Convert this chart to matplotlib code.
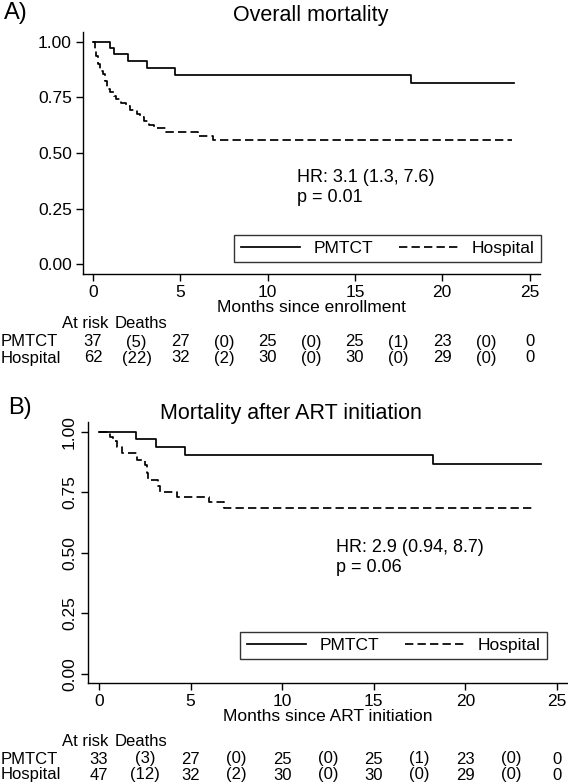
import matplotlib.pyplot as plt
import matplotlib.transforms as mtransforms

plt.rcParams['font.family'] = ['Liberation Sans', 'DejaVu Sans']

W, H = 568, 782

# Panel A: overall mortality (Kaplan-Meier steps)
a_pmtct_t = [0, 0.97, 1.2, 2.0, 3.1, 4.7, 18.2]
a_pmtct_s = [1.0, 0.973, 0.946, 0.915, 0.883, 0.851, 0.815]
a_pmtct_end = 24.1
a_hosp_t = [0, 0.1, 0.2, 0.3, 0.4, 0.55, 0.7, 0.8, 1.0, 1.2, 1.3, 1.6, 1.9,
            2.1, 2.5, 2.7, 2.9, 3.2, 3.5, 4.2, 6.0, 6.9]
a_hosp_s = [1.0, 0.968, 0.935, 0.903, 0.871, 0.855, 0.823, 0.79, 0.774, 0.758,
            0.742, 0.726, 0.71, 0.694, 0.677, 0.661, 0.645, 0.626, 0.611,
            0.596, 0.577, 0.559]
a_hosp_end = 24.0

# Panel B: mortality after ART initiation
b_pmtct_t = [0, 2.0, 3.1, 4.7, 18.25]
b_pmtct_s = [1.0, 0.97, 0.937, 0.902, 0.866]
b_pmtct_end = 24.1
b_hosp_t = [0, 0.6, 0.77, 1.0, 1.24, 2.06, 2.5, 2.6, 2.7, 3.2, 3.34, 4.25, 6.0, 6.8]
b_hosp_s = [1.0, 0.98, 0.96, 0.936, 0.912, 0.884, 0.864, 0.83, 0.80, 0.774,
            0.753, 0.73, 0.708, 0.685]
b_hosp_end = 23.8

# risk tables
risk_times = [0, 5, 10, 15, 20, 25]
death_times = [2.5, 7.5, 12.5, 17.5, 22.5]
a_pmtct_risk = [37, 27, 25, 25, 23, 0]
a_pmtct_deaths = [5, 0, 0, 1, 0]
a_hosp_risk = [62, 32, 30, 30, 29, 0]
a_hosp_deaths = [22, 2, 0, 0, 0]
b_pmtct_risk = [33, 27, 25, 25, 23, 0]
b_pmtct_deaths = [3, 0, 0, 1, 0]
b_hosp_risk = [47, 32, 30, 30, 29, 0]
b_hosp_deaths = [12, 2, 0, 0, 0]

groups = ['PMTCT', 'Hospital']


def fx(px):
    return px / W


def fy(px):
    return 1 - px / H


def panel(rect, xlim, ylim, pm, ho, legend_box, rotate_y):
    ax = fig.add_axes([fx(rect[0]), fy(rect[3]), fx(rect[2] - rect[0]),
                       (rect[3] - rect[1]) / H])
    t, s, end = pm
    ax.step(t + [end], s + [s[-1]], where='post', color='black', lw=1.25,
            label=groups[0])
    t, s, end = ho
    ax.step(t + [end], s + [s[-1]], where='post', color='black', lw=1.25,
            dashes=(4.8, 2.4), label=groups[1])
    ax.set_xlim(*xlim)
    ax.set_ylim(*ylim)
    ax.set_xticks([0, 5, 10, 15, 20, 25])
    ax.set_yticks([0, 0.25, 0.5, 0.75, 1.0])
    ax.set_yticklabels(['0.00', '0.25', '0.50', '0.75', '1.00'])
    for side in ['top', 'right']:
        ax.spines[side].set_visible(False)
    for side in ['left', 'bottom']:
        ax.spines[side].set_linewidth(1.0)
    ax.tick_params(direction='out', length=5, width=1.0, labelsize=12.5, pad=3)
    if rotate_y:
        ax.tick_params(axis='y', labelrotation=90)
        for lbl in ax.get_yticklabels():
            lbl.set_va('center')
    x0, y0, x1, y1 = legend_box
    leg = ax.legend(loc='lower right', bbox_to_anchor=(fx(x1), fy(y1)),
                    bbox_transform=fig.transFigure, borderaxespad=0, ncol=2,
                    fontsize=12.5, frameon=True, fancybox=False,
                    edgecolor='black', handlelength=3.4, columnspacing=1.5,
                    handletextpad=0.8, borderpad=0.35)
    leg.get_frame().set_linewidth(1.0)
    return ax


def risk_table(ax, rows_y, header_y):
    tr = mtransforms.blended_transform_factory(ax.transData, fig.transFigure)
    fig.text(fx(62), fy(header_y), 'At risk', fontsize=12, va='center')
    fig.text(fx(115), fy(header_y), 'Deaths', fontsize=12, va='center')
    for (name, risk, deaths), ypx in zip(rows_y[0], rows_y[1]):
        fig.text(fx(1), fy(ypx), name, fontsize=12, va='center')
        for x, n in zip(risk_times, risk):
            ax.text(x, fy(ypx), str(n), transform=tr, fontsize=12,
                    ha='center', va='center')
        for x, d in zip(death_times, deaths):
            ax.text(x, fy(ypx), '(%d)' % d, transform=tr, fontsize=12,
                    ha='center', va='center')


fig = plt.figure(figsize=(W / 100, H / 100), dpi=100)

# ---- A
axA = panel((83, 32, 540, 274), (-0.57, 25.6), (-0.045, 1.045),
            (a_pmtct_t, a_pmtct_s, a_pmtct_end),
            (a_hosp_t, a_hosp_s, a_hosp_end),
            (245, 238, 541, 262), False)
axA.set_xlabel('Months since enrollment', fontsize=12.5, labelpad=0)
fig.text(fx(311), fy(16), 'Overall mortality', fontsize=15.5, ha='center', va='center')
fig.text(fx(4), fy(13), 'A)', fontsize=17, ha='left', va='center')
fig.text(fx(297), fy(177), 'HR: 3.1 (1.3, 7.6)', fontsize=13, va='center')
fig.text(fx(297), fy(197), 'p = 0.01', fontsize=13, va='center')
risk_table(axA, ([('PMTCT', a_pmtct_risk, a_pmtct_deaths),
                  ('Hospital', a_hosp_risk, a_hosp_deaths)], [342, 358]), 324)

# ---- B
axB = panel((88, 422, 568, 683), (-0.6, 25.6), (-0.037, 1.04),
            (b_pmtct_t, b_pmtct_s, b_pmtct_end),
            (b_hosp_t, b_hosp_s, b_hosp_end),
            (250, 630, 547, 659), True)
axB.set_xlabel('Months since ART initiation', fontsize=12.5, labelpad=0)
fig.text(fx(291), fy(413), 'Mortality after ART initiation', fontsize=15.5,
         ha='center', va='center')
fig.text(fx(8), fy(408), 'B)', fontsize=17, ha='left', va='center')
fig.text(fx(336), fy(547), 'HR: 2.9 (0.94, 8.7)', fontsize=13, va='center')
fig.text(fx(336), fy(568), 'p = 0.06', fontsize=13, va='center')
risk_table(axB, ([('PMTCT', b_pmtct_risk, b_pmtct_deaths),
                  ('Hospital', b_hosp_risk, b_hosp_deaths)], [759, 775]), 741)

fig.savefig('out.png', dpi=100)
